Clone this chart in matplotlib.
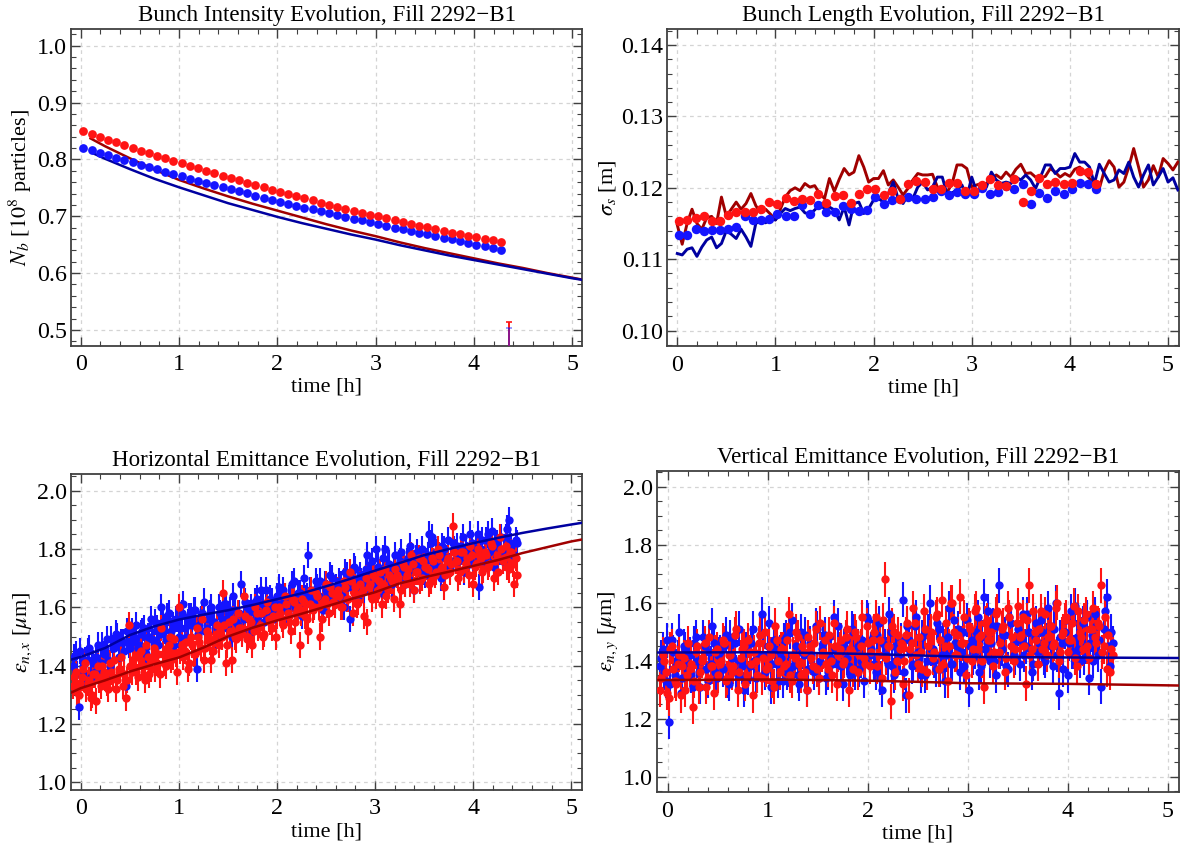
import numpy as np
import matplotlib
matplotlib.use("Agg")
import matplotlib.pyplot as plt
from matplotlib.ticker import MultipleLocator, FormatStrFormatter

plt.rcParams['font.family'] = ['Liberation Serif', 'DejaVu Serif']
plt.rcParams['mathtext.fontset'] = 'stix'

# ---------------- data ----------------
# Bunch intensity (top-left)
nb_t0, nb_dt, nb_n = 0.027, 0.0833, 52
nb_red = [0.8494, 0.8444, 0.8395, 0.8347, 0.8299, 0.8250, 0.8202, 0.8156, 0.8110, 0.8064,
          0.8018, 0.7973, 0.7929, 0.7885, 0.7841, 0.7798, 0.7755, 0.7713, 0.7670, 0.7630,
          0.7588, 0.7548, 0.7508, 0.7468, 0.7430, 0.7391, 0.7352, 0.7315, 0.7278, 0.7241,
          0.7204, 0.7168, 0.7133, 0.7099, 0.7064, 0.7030, 0.6997, 0.6964, 0.6931, 0.6898,
          0.6866, 0.6835, 0.6804, 0.6774, 0.6744, 0.6714, 0.6686, 0.6657, 0.6629, 0.6601,
          0.6574, 0.6547]
nb_blue = [0.8200, 0.8158, 0.8117, 0.8075, 0.8033, 0.7992, 0.7950, 0.7908, 0.7867, 0.7825,
           0.7783, 0.7742, 0.7701, 0.7664, 0.7626, 0.7589, 0.7551, 0.7514, 0.7476, 0.7439,
           0.7401, 0.7364, 0.7326, 0.7289, 0.7252, 0.7219, 0.7187, 0.7154, 0.7122, 0.7089,
           0.7057, 0.7024, 0.6992, 0.6959, 0.6927, 0.6894, 0.6862, 0.6832, 0.6802, 0.6772,
           0.6742, 0.6712, 0.6682, 0.6652, 0.6622, 0.6592, 0.6562, 0.6532, 0.6502, 0.6472,
           0.6442, 0.6412]
nb_fit_red_t = [0.10, 0.25, 0.50, 0.75, 1.00, 1.25, 1.50, 1.75, 2.00, 2.25, 2.50, 2.75,
                3.00, 3.25, 3.50, 3.75, 4.00, 4.25, 4.50, 4.75, 5.00, 5.15]
nb_fit_red = [0.837, 0.823, 0.802, 0.782, 0.764, 0.749, 0.735, 0.722, 0.710, 0.698, 0.686,
              0.675, 0.665, 0.654, 0.644, 0.635, 0.626, 0.617, 0.609, 0.600, 0.592, 0.587]
nb_fit_blue_t = [0.11, 0.25, 0.50, 0.75, 1.00, 1.25, 1.50, 1.75, 2.00, 2.25, 2.50, 2.75,
                 3.00, 3.25, 3.50, 3.75, 4.00, 4.25, 4.50, 4.75, 5.00, 5.15]
nb_fit_blue = [0.812, 0.801, 0.783, 0.766, 0.751, 0.737, 0.723, 0.711, 0.699, 0.688, 0.678,
               0.668, 0.659, 0.649, 0.640, 0.631, 0.623, 0.615, 0.607, 0.599, 0.591, 0.587]
glitch_t = 4.357
glitch_center = 0.40
glitch_red_top = 0.514
glitch_blue_top = 0.504

# Bunch length (top-right)
bl_line_t0, bl_line_dt = 0.0, 0.05
bl_line_red = [0.1148, 0.1121, 0.1150, 0.1170, 0.1150, 0.1142, 0.1158, 0.1160, 0.1150, 0.1187,
               0.1160, 0.1170, 0.1180, 0.1170, 0.1178, 0.1192, 0.1175, 0.1165, 0.1170, 0.1163,
               0.1155, 0.1170, 0.1187, 0.1196, 0.1200, 0.1196, 0.1206, 0.1201, 0.1203, 0.1192,
               0.1185, 0.1213, 0.1195, 0.1212,
               0.1227, 0.1218, 0.1222, 0.1245, 0.1229, 0.1208, 0.1213, 0.1213, 0.1224, 0.1204,
               0.1211, 0.1201, 0.1190, 0.1199, 0.1211, 0.1220, 0.1218, 0.1218, 0.1219, 0.1201,
               0.1199, 0.1194, 0.1206, 0.1232, 0.1232, 0.1227, 0.1201, 0.1204, 0.1206, 0.1206,
               0.1213, 0.1218, 0.1213, 0.1222, 0.1215,
               0.1226, 0.1233, 0.1220, 0.1221, 0.1215, 0.1214, 0.1216, 0.1227, 0.1222, 0.1215,
               0.1220, 0.1216, 0.1226, 0.1229, 0.1221, 0.1213, 0.1208, 0.1199, 0.1224, 0.1238,
               0.1229, 0.1201, 0.1208, 0.1229, 0.1255, 0.1229, 0.1201, 0.1211, 0.1231, 0.1215,
               0.1241, 0.1234, 0.1225, 0.1236]
bl_line_blue = [0.1108, 0.1106, 0.1114, 0.1116, 0.1104, 0.1117, 0.1127, 0.1131, 0.1116, 0.1122,
                0.1140, 0.1135, 0.1129, 0.1142, 0.1131, 0.1118, 0.1150, 0.1154, 0.1151, 0.1156,
                0.1155, 0.1164, 0.1171, 0.1168, 0.1171, 0.1173, 0.1165, 0.1163, 0.1169, 0.1176,
                0.1171, 0.1173, 0.1169, 0.1155,
                0.1173, 0.1148, 0.1178, 0.1180, 0.1164, 0.1171, 0.1183, 0.1185, 0.1180, 0.1192,
                0.1208, 0.1185, 0.1178, 0.1190, 0.1185, 0.1201, 0.1208, 0.1197, 0.1201, 0.1215,
                0.1215, 0.1190, 0.1193, 0.1197, 0.1204, 0.1187, 0.1215, 0.1194, 0.1197, 0.1201,
                0.1222, 0.1211, 0.1206, 0.1208, 0.1206,
                0.1215, 0.1211, 0.1218, 0.1211, 0.1199, 0.1215, 0.1232, 0.1232, 0.1220, 0.1227,
                0.1227, 0.1229, 0.1248, 0.1236, 0.1236, 0.1229, 0.1206, 0.1233, 0.1220, 0.1208,
                0.1211, 0.1225, 0.1220, 0.1236, 0.1215, 0.1201, 0.1218, 0.1232, 0.1204, 0.1215,
                0.1227, 0.1208, 0.1214, 0.1197]
bl_pts_t0, bl_pts_dt, bl_pts_n = 0.02, 0.0833, 52
bl_pts_red = [0.1153, 0.1155, 0.1158, 0.1160, 0.1154, 0.1154, 0.1162, 0.1166, 0.1166, 0.1166,
              0.1171, 0.1180, 0.1178, 0.1186, 0.1181, 0.1185, 0.1183, 0.1192, 0.1179, 0.1188,
              0.1190, 0.1179, 0.1191, 0.1199, 0.1199, 0.1190, 0.1196, 0.1184, 0.1205, 0.1210,
              0.1208, 0.1198, 0.1199, 0.1207, 0.1207, 0.1196, 0.1196, 0.1204, 0.1212, 0.1204,
              0.1202, 0.1212, 0.1180, 0.1196, 0.1214, 0.1206, 0.1208, 0.1206, 0.1207, 0.1223,
              0.1222, 0.1205]
bl_pts_blue = [0.1134, 0.1134, 0.1143, 0.1140, 0.1141, 0.1141, 0.1142, 0.1145, 0.1161, 0.1155,
               0.1155, 0.1157, 0.1164, 0.1161, 0.1160, 0.1176, 0.1164, 0.1176, 0.1166, 0.1166,
               0.1174, 0.1170, 0.1168, 0.1169, 0.1187, 0.1178, 0.1183, 0.1185, 0.1187, 0.1184,
               0.1185, 0.1187, 0.1196, 0.1190, 0.1194, 0.1191, 0.1192, 0.1200, 0.1192, 0.1194,
               0.1203, 0.1199, 0.1206, 0.1178, 0.1193, 0.1186, 0.1196, 0.1191, 0.1199, 0.1207,
               0.1205, 0.1199]
bl_pts_err = 0.0004

# Emittances (bottom): two interleaved time grids
em_t0, em_dt, em_n = -0.08, 0.03, 152
em2_t0, em2_n = -0.065, 151
ex_blue = [1.40, 1.44, 1.26, 1.38, 1.42, 1.45, 1.36, 1.41, 1.43, 1.39,
           1.47, 1.44, 1.42, 1.49, 1.46, 1.50, 1.43, 1.48, 1.33, 1.47,
           1.52, 1.48, 1.46, 1.51, 1.53, 1.44, 1.50, 1.49, 1.55, 1.47,
           1.60, 1.52, 1.57, 1.49, 1.54, 1.56, 1.50, 1.58, 1.53, 1.55,
           1.57, 1.59, 1.39, 1.54, 1.58, 1.52, 1.56, 1.60, 1.55, 1.53,
           1.58, 1.55, 1.61, 1.57, 1.50, 1.59, 1.54, 1.68, 1.56, 1.60,
           1.58, 1.52, 1.62, 1.57, 1.66, 1.55, 1.60, 1.63, 1.56, 1.59,
           1.67, 1.61, 1.64, 1.58, 1.62, 1.69, 1.60, 1.65, 1.57, 1.63,
           1.78, 1.64, 1.61, 1.67, 1.69, 1.59, 1.66, 1.63, 1.70, 1.62,
           1.65, 1.68, 1.60, 1.71, 1.56, 1.67, 1.73, 1.64, 1.69, 1.66,
           1.78, 1.70, 1.68, 1.80, 1.72, 1.65, 1.80, 1.74, 1.69, 1.73,
           1.71, 1.76, 1.73, 1.68, 1.77, 1.74, 1.66, 1.79, 1.75, 1.72,
           1.76, 1.85, 1.84, 1.73, 1.78, 1.70, 1.80, 1.77, 1.74, 1.82,
           1.79, 1.76, 1.81, 1.72, 1.78, 1.85, 1.75, 1.80, 1.67, 1.83,
           1.77, 1.85, 1.80, 1.74, 1.82, 1.79, 1.76, 1.84, 1.90, 1.81, 1.78, 1.82]
ex_blue2 = [1.43, 1.37, 1.45, 1.40, 1.34, 1.46, 1.42, 1.38, 1.47, 1.41,
            1.44, 1.49, 1.40, 1.46, 1.51, 1.43, 1.48, 1.45, 1.52, 1.46,
            1.49, 1.54, 1.47, 1.52, 1.45, 1.50, 1.56, 1.48, 1.53, 1.51,
            1.55, 1.49, 1.58, 1.52, 1.47, 1.56, 1.53, 1.61, 1.50, 1.57,
            1.54, 1.59, 1.51, 1.56, 1.62, 1.53, 1.58, 1.55, 1.49, 1.60,
            1.56, 1.61, 1.53, 1.59, 1.64, 1.55, 1.58, 1.52, 1.62, 1.57,
            1.60, 1.55, 1.63, 1.58, 1.61, 1.66, 1.57, 1.62, 1.59, 1.64,
            1.61, 1.66, 1.59, 1.63, 1.68, 1.60, 1.65, 1.62, 1.70, 1.64,
            1.66, 1.62, 1.69, 1.64, 1.60, 1.68, 1.65, 1.71, 1.63, 1.67,
            1.69, 1.64, 1.72, 1.67, 1.70, 1.74, 1.66, 1.71, 1.68, 1.73,
            1.71, 1.76, 1.69, 1.74, 1.70, 1.77, 1.72, 1.75, 1.68, 1.78,
            1.74, 1.79, 1.72, 1.76, 1.81, 1.73, 1.77, 1.75, 1.80, 1.71,
            1.78, 1.82, 1.75, 1.79, 1.74, 1.81, 1.77, 1.83, 1.76, 1.80,
            1.81, 1.77, 1.84, 1.79, 1.75, 1.82, 1.78, 1.85, 1.80, 1.76,
            1.83, 1.79, 1.86, 1.81, 1.77, 1.84, 1.80, 1.87, 1.82, 1.78, 1.83]
ex_red = [1.33, 1.38, 1.30, 1.36, 1.41, 1.34, 1.29, 1.37, 1.28, 1.35,
          1.40, 1.36, 1.32, 1.38, 1.42, 1.35, 1.39, 1.33, 1.29, 1.54,
          1.38, 1.43, 1.36, 1.45, 1.40, 1.47, 1.37, 1.42, 1.39, 1.44,
          1.53, 1.41, 1.46, 1.50, 1.43, 1.44, 1.60, 1.47, 1.45, 1.39,
          1.50, 1.44, 1.53, 1.48, 1.56, 1.46, 1.51, 1.42, 1.49, 1.54,
          1.52, 1.65, 1.41, 1.55, 1.42, 1.50, 1.58, 1.53, 1.64, 1.49,
          1.56, 1.47, 1.60, 1.53, 1.58, 1.51, 1.62, 1.55, 1.57, 1.50,
          1.60, 1.56, 1.64, 1.58, 1.52, 1.62, 1.59, 1.47, 1.63, 1.57,
          1.52, 1.66, 1.60, 1.64, 1.50, 1.62, 1.68, 1.58, 1.65, 1.61,
          1.66, 1.60, 1.69, 1.63, 1.72, 1.58, 1.67, 1.62, 1.65, 1.57,
          1.55, 1.68, 1.71, 1.64, 1.69, 1.61, 1.73, 1.66, 1.70, 1.63,
          1.71, 1.61, 1.75, 1.68, 1.73, 1.78, 1.66, 1.72, 1.69, 1.76,
          1.74, 1.68, 1.77, 1.71, 1.80, 1.73, 1.67, 1.76, 1.72, 1.88,
          1.76, 1.70, 1.79, 1.73, 1.77, 1.81, 1.68, 1.75, 1.78, 1.72,
          1.79, 1.74, 1.82, 1.70, 1.78, 1.84, 1.76, 1.81, 1.73, 1.79, 1.68, 1.71]
ex_red2 = [1.36, 1.31, 1.34, 1.39, 1.32, 1.35, 1.30, 1.37, 1.40, 1.33,
           1.38, 1.34, 1.41, 1.36, 1.32, 1.39, 1.43, 1.37, 1.35, 1.40,
           1.42, 1.38, 1.44, 1.40, 1.35, 1.43, 1.39, 1.46, 1.41, 1.37,
           1.44, 1.40, 1.47, 1.42, 1.49, 1.38, 1.45, 1.43, 1.48, 1.41,
           1.47, 1.44, 1.50, 1.46, 1.42, 1.52, 1.48, 1.45, 1.51, 1.47,
           1.50, 1.54, 1.47, 1.52, 1.56, 1.49, 1.53, 1.51, 1.57, 1.50,
           1.55, 1.52, 1.58, 1.54, 1.50, 1.59, 1.56, 1.53, 1.60, 1.57,
           1.58, 1.54, 1.61, 1.57, 1.63, 1.55, 1.60, 1.58, 1.62, 1.56,
           1.61, 1.59, 1.65, 1.60, 1.56, 1.63, 1.61, 1.67, 1.62, 1.64,
           1.64, 1.60, 1.67, 1.63, 1.69, 1.65, 1.61, 1.68, 1.66, 1.70,
           1.67, 1.63, 1.70, 1.66, 1.72, 1.68, 1.64, 1.71, 1.69, 1.73,
           1.70, 1.66, 1.74, 1.71, 1.68, 1.75, 1.72, 1.77, 1.70, 1.74,
           1.73, 1.69, 1.76, 1.72, 1.78, 1.74, 1.71, 1.77, 1.75, 1.79,
           1.76, 1.72, 1.79, 1.75, 1.71, 1.78, 1.74, 1.80, 1.77, 1.73,
           1.78, 1.75, 1.81, 1.76, 1.72, 1.80, 1.77, 1.74, 1.79, 1.75, 1.77]
ex_err = 0.045
ex_fit_t = [-0.11, 0.0, 0.25, 0.5, 0.75, 1.0, 1.25, 1.5, 1.75, 2.0, 2.25, 2.5, 2.75, 3.0,
            3.25, 3.5, 3.75, 4.0, 4.25, 4.5, 4.75, 5.0, 5.15]
ex_fit_blue = [1.420, 1.430, 1.461, 1.505, 1.535, 1.558, 1.575, 1.590, 1.608, 1.628, 1.648,
               1.672, 1.698, 1.726, 1.752, 1.779, 1.800, 1.820, 1.838, 1.855, 1.870, 1.884, 1.892]
ex_fit_red = [1.306, 1.323, 1.350, 1.380, 1.405, 1.428, 1.462, 1.500, 1.530, 1.555, 1.578,
              1.603, 1.628, 1.652, 1.682, 1.703, 1.722, 1.742, 1.762, 1.786, 1.806, 1.826, 1.835]

ey_blue = [1.38, 1.44, 1.33, 1.19, 1.47, 1.35, 1.41, 1.29, 1.45, 1.37,
           1.42, 1.31, 1.48, 1.36, 1.40, 1.45, 1.33, 1.39, 1.46, 1.34,
           1.43, 1.37, 1.49, 1.32, 1.41, 1.46, 1.35, 1.40, 1.30, 1.44,
           1.38, 1.51, 1.34, 1.42, 1.56, 1.36, 1.45, 1.31, 1.47, 1.39,
           1.43, 1.33, 1.48, 1.37, 1.54, 1.40, 1.35, 1.50, 1.42, 1.30,
           1.46, 1.38, 1.52, 1.34, 1.44, 1.49, 1.36, 1.41, 1.55, 1.39,
           1.43, 1.32, 1.47, 1.38, 1.51, 1.36, 1.45, 1.40, 1.33, 1.55,
           1.42, 1.48, 1.36, 1.53, 1.30, 1.45, 1.39, 1.50, 1.35, 1.44,
           1.41, 1.61, 1.28, 1.47, 1.38, 1.52, 1.43, 1.35, 1.49, 1.40,
           1.60, 1.44, 1.37, 1.51, 1.42, 1.33, 1.48, 1.39, 1.54, 1.45,
           1.36, 1.50, 1.41, 1.30, 1.47, 1.43, 1.55, 1.38, 1.62, 1.46,
           1.40, 1.52, 1.35, 1.66, 1.44, 1.49, 1.37, 1.53, 1.42, 1.47,
           1.39, 1.56, 1.45, 1.50, 1.36, 1.48, 1.43, 1.54, 1.41, 1.47,
           1.52, 1.38, 1.60, 1.29, 1.46, 1.50, 1.35, 1.57, 1.43, 1.48,
           1.40, 1.53, 1.45, 1.34, 1.49, 1.56, 1.42, 1.31, 1.51, 1.62, 1.38, 1.46]
ey_blue2 = [1.41, 1.36, 1.47, 1.32, 1.43, 1.38, 1.50, 1.34, 1.44, 1.39,
            1.35, 1.46, 1.40, 1.31, 1.48, 1.37, 1.43, 1.52, 1.36, 1.42,
            1.39, 1.45, 1.33, 1.48, 1.41, 1.36, 1.51, 1.38, 1.44, 1.34,
            1.46, 1.40, 1.35, 1.49, 1.42, 1.37, 1.53, 1.39, 1.44, 1.33,
            1.41, 1.47, 1.36, 1.50, 1.38, 1.45, 1.32, 1.43, 1.49, 1.37,
            1.42, 1.36, 1.51, 1.40, 1.46, 1.34, 1.48, 1.39, 1.44, 1.52,
            1.38, 1.45, 1.41, 1.35, 1.50, 1.43, 1.37, 1.47, 1.40, 1.54,
            1.44, 1.39, 1.49, 1.34, 1.46, 1.42, 1.56, 1.38, 1.45, 1.41,
            1.47, 1.36, 1.52, 1.43, 1.39, 1.55, 1.41, 1.48, 1.35, 1.50,
            1.44, 1.40, 1.53, 1.37, 1.47, 1.42, 1.58, 1.39, 1.46, 1.51,
            1.43, 1.38, 1.54, 1.45, 1.41, 1.50, 1.36, 1.48, 1.44, 1.57,
            1.46, 1.40, 1.52, 1.43, 1.49, 1.38, 1.55, 1.45, 1.41, 1.51,
            1.47, 1.42, 1.56, 1.44, 1.39, 1.53, 1.46, 1.50, 1.40, 1.58,
            1.45, 1.51, 1.42, 1.48, 1.37, 1.54, 1.46, 1.43, 1.59, 1.44,
            1.49, 1.41, 1.55, 1.46, 1.40, 1.52, 1.47, 1.43, 1.57, 1.45, 1.50]
ey_red = [1.30, 1.42, 1.36, 1.27, 1.45, 1.33, 1.39, 1.28, 1.41, 1.35,
          1.37, 1.24, 1.43, 1.31, 1.40, 1.46, 1.34, 1.38, 1.29, 1.44,
          1.39, 1.47, 1.33, 1.42, 1.36, 1.49, 1.30, 1.41, 1.45, 1.35,
          1.43, 1.28, 1.40, 1.46, 1.34, 1.50, 1.38, 1.42, 1.31, 1.47,
          1.36, 1.44, 1.39, 1.56, 1.33, 1.41, 1.48, 1.35, 1.43, 1.30,
          1.45, 1.38, 1.51, 1.34, 1.42, 1.47, 1.37, 1.40, 1.53, 1.32,
          1.44, 1.39, 1.48, 1.30, 1.43, 1.50, 1.36, 1.45, 1.41, 1.52,
          1.38, 1.47, 1.55, 1.42, 1.34, 1.68, 1.45, 1.26, 1.50, 1.40,
          1.44, 1.32, 1.49, 1.28, 1.46, 1.53, 1.39, 1.43, 1.57, 1.36,
          1.48, 1.41, 1.55, 1.37, 1.61, 1.45, 1.33, 1.60, 1.50, 1.42,
          1.62, 1.46, 1.35, 1.52, 1.40, 1.57, 1.44, 1.49, 1.31, 1.54,
          1.47, 1.38, 1.56, 1.43, 1.51, 1.36, 1.58, 1.45, 1.40, 1.53,
          1.48, 1.55, 1.32, 1.66, 1.44, 1.50, 1.39, 1.57, 1.46, 1.42,
          1.52, 1.45, 1.58, 1.40, 1.49, 1.54, 1.43, 1.47, 1.59, 1.38,
          1.50, 1.44, 1.56, 1.41, 1.51, 1.48, 1.53, 1.66, 1.45, 1.37, 1.36, 1.42]
ey_red2 = [1.34, 1.40, 1.29, 1.44, 1.37, 1.32, 1.42, 1.38, 1.30, 1.46,
           1.39, 1.33, 1.45, 1.36, 1.41, 1.31, 1.48, 1.38, 1.43, 1.35,
           1.40, 1.46, 1.34, 1.42, 1.38, 1.51, 1.36, 1.44, 1.32, 1.47,
           1.39, 1.43, 1.35, 1.49, 1.41, 1.37, 1.45, 1.33, 1.52, 1.40,
           1.44, 1.38, 1.47, 1.35, 1.42, 1.50, 1.39, 1.45, 1.36, 1.48,
           1.41, 1.46, 1.37, 1.53, 1.43, 1.39, 1.49, 1.35, 1.45, 1.42,
           1.47, 1.40, 1.51, 1.44, 1.37, 1.48, 1.42, 1.55, 1.39, 1.46,
           1.43, 1.50, 1.38, 1.47, 1.54, 1.41, 1.45, 1.52, 1.36, 1.49,
           1.46, 1.40, 1.53, 1.44, 1.58, 1.42, 1.48, 1.37, 1.51, 1.45,
           1.50, 1.43, 1.56, 1.47, 1.39, 1.53, 1.45, 1.60, 1.42, 1.49,
           1.46, 1.55, 1.41, 1.51, 1.44, 1.58, 1.48, 1.40, 1.53, 1.47,
           1.50, 1.43, 1.57, 1.46, 1.52, 1.41, 1.55, 1.48, 1.44, 1.59,
           1.49, 1.45, 1.54, 1.42, 1.57, 1.47, 1.51, 1.44, 1.56, 1.48,
           1.52, 1.46, 1.60, 1.43, 1.50, 1.55, 1.47, 1.53, 1.41, 1.57,
           1.48, 1.54, 1.45, 1.51, 1.58, 1.46, 1.52, 1.43, 1.55, 1.49, 1.44]
ey_err = 0.06
ey_fit_t = [-0.11, 1.0, 2.0, 2.5, 3.0, 4.0, 5.15]
ey_fit_blue = [1.428, 1.429, 1.423, 1.418, 1.413, 1.411, 1.409]
ey_fit_red = [1.333, 1.335, 1.331, 1.327, 1.322, 1.320, 1.314]

# ---------------- style ----------------
RED = '#ff1414'
BLUE = '#1414ff'
DRED = '#a00000'
DBLUE = '#0000a0'
FRAME = '#404040'
TICK_FS = 17.3
LABEL_FS = 16
TITLE_FS = 16.6


def style_axes(ax, xlim, ylim, ymajor, yminor, yfmt, title, ylabel):
    ax.set_xlim(*xlim)
    ax.set_ylim(*ylim)
    ax.xaxis.set_major_locator(MultipleLocator(1))
    ax.xaxis.set_minor_locator(MultipleLocator(0.2))
    ax.yaxis.set_major_locator(MultipleLocator(ymajor))
    ax.yaxis.set_minor_locator(MultipleLocator(yminor))
    ax.yaxis.set_major_formatter(FormatStrFormatter(yfmt))
    ax.xaxis.set_major_formatter(FormatStrFormatter('%d'))
    ax.tick_params(which='both', direction='in', top=True, right=True, color=FRAME,
                   labelsize=TICK_FS)
    ax.tick_params(which='major', length=6.5, width=1.0)
    ax.tick_params(which='minor', length=3.5, width=0.8)
    ax.tick_params(axis='x', pad=6)
    ax.tick_params(axis='y', pad=3)
    for s in ax.spines.values():
        s.set_color(FRAME)
        s.set_linewidth(1.3)
    ax.grid(True, which='major', color='#d4d4d4', linestyle=(0, (3, 3)), linewidth=0.9)
    ax.set_axisbelow(True)
    ax.set_title(title, fontsize=TITLE_FS, pad=6)
    ax.set_xlabel('time [h]', fontsize=LABEL_FS, labelpad=2)
    ax.set_ylabel(ylabel, fontsize=LABEL_FS, labelpad=2)


def emit_points(ax, t, v, err, color):
    ax.errorbar(t, v, yerr=err, fmt='o', color=color, ms=6, mew=0,
                elinewidth=1.5, capsize=2, capthick=1.2, zorder=3)


fig = plt.figure(figsize=(11.91, 8.56), dpi=100)

# ---- top-left: bunch intensity
ax1 = fig.add_axes([0.0598, 0.5962, 0.4292, 0.3696])
nb_t = nb_t0 + nb_dt * np.arange(nb_n)
ax1.plot(nb_fit_red_t, nb_fit_red, color=DRED, lw=1.8, zorder=3)
ax1.plot(nb_fit_blue_t, nb_fit_blue, color=DBLUE, lw=1.8, zorder=3)
ax1.plot(nb_t, nb_blue, 'o', color=BLUE, ms=6.3, mew=0, zorder=4)
ax1.plot(nb_t, nb_red, 'o', color=RED, ms=6.3, mew=0, zorder=4)
ax1.errorbar([glitch_t], [glitch_center], yerr=[glitch_red_top - glitch_center], fmt='none',
             ecolor=RED, elinewidth=1.4, capsize=2, capthick=1.2, zorder=4)
ax1.errorbar([glitch_t], [glitch_center], yerr=[glitch_blue_top - glitch_center], fmt='none',
             ecolor=BLUE, elinewidth=1.4, capsize=2, capthick=1.2, alpha=0.5, zorder=5)
style_axes(ax1, (-0.097, 5.104), (0.4724, 1.029), 0.1, 0.02, '%.1f',
           'Bunch Intensity Evolution, Fill 2292\u2212B1',
           r'$N_b$ [$10^8$ particles]')

# ---- top-right: bunch length
ax2 = fig.add_axes([0.5601, 0.5954, 0.4301, 0.3704])
bl_line_t = bl_line_t0 + bl_line_dt * np.arange(len(bl_line_red))
bl_pts_t = bl_pts_t0 + bl_pts_dt * np.arange(bl_pts_n)
ax2.plot(bl_line_t, bl_line_red, color=DRED, lw=2.1, zorder=3)
ax2.plot(bl_line_t, bl_line_blue, color=DBLUE, lw=2.1, zorder=3)
ax2.errorbar(bl_pts_t, bl_pts_blue, yerr=bl_pts_err, fmt='o', color=BLUE, ms=6.8, mew=0,
             elinewidth=1.2, capsize=2, capthick=1, zorder=4)
ax2.errorbar(bl_pts_t, bl_pts_red, yerr=bl_pts_err, fmt='o', color=RED, ms=6.8, mew=0,
             elinewidth=1.2, capsize=2, capthick=1, zorder=4)
style_axes(ax2, (-0.104, 5.115), (0.0978, 0.1422), 0.01, 0.002, '%.2f',
           'Bunch Length Evolution, Fill 2292\u2212B1', r'$\sigma_s$ [m]')

# ---- bottom-left: horizontal emittance
em_t = em_t0 + em_dt * np.arange(em_n)
em2_t = em2_t0 + em_dt * np.arange(em2_n)
ax3 = fig.add_axes([0.0598, 0.0771, 0.4292, 0.3688])
emit_points(ax3, em_t, ex_blue, ex_err, BLUE)
emit_points(ax3, em2_t, ex_blue2, ex_err, BLUE)
emit_points(ax3, em_t, ex_red, ex_err, RED)
emit_points(ax3, em2_t, ex_red2, ex_err, RED)
ax3.plot(ex_fit_t, ex_fit_blue, color=DBLUE, lw=1.8, zorder=5)
ax3.plot(ex_fit_t, ex_fit_red, color=DRED, lw=1.8, zorder=5)
style_axes(ax3, (-0.097, 5.113), (0.974, 2.056), 0.2, 0.05, '%.1f',
           'Horizontal Emittance Evolution, Fill 2292\u2212B1', r'$\epsilon_{n,x}$ [$\mu$m]')

# ---- bottom-right: vertical emittance
ax4 = fig.add_axes([0.5519, 0.0744, 0.4377, 0.3754])
emit_points(ax4, em_t, ey_blue, ey_err, BLUE)
emit_points(ax4, em2_t, ey_blue2, ey_err, BLUE)
emit_points(ax4, em_t, ey_red, ey_err, RED)
emit_points(ax4, em2_t, ey_red2, ey_err, RED)
ax4.plot(ey_fit_t, ey_fit_blue, color=DBLUE, lw=1.8, zorder=5)
ax4.plot(ey_fit_t, ey_fit_red, color=DRED, lw=1.8, zorder=5)
style_axes(ax4, (-0.102, 5.106), (0.946, 2.054), 0.2, 0.05, '%.1f',
           'Vertical Emittance Evolution, Fill 2292\u2212B1', r'$\epsilon_{n,y}$ [$\mu$m]')

fig.savefig('out.png', dpi=100)
